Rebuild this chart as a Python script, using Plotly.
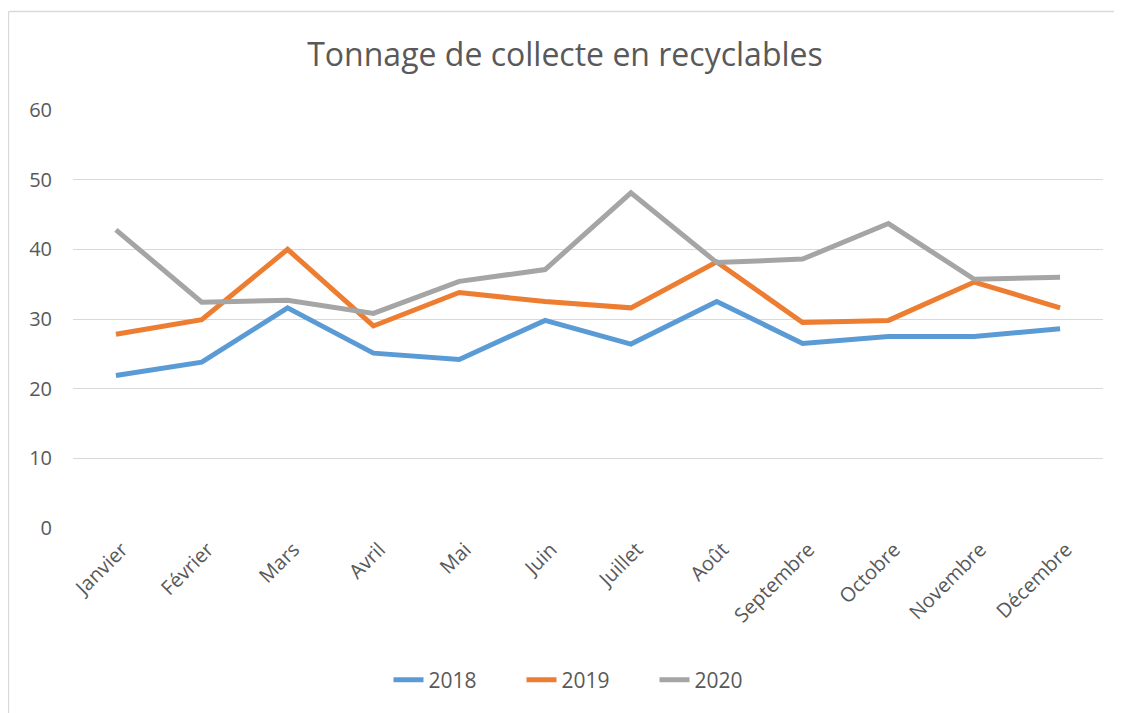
import plotly.graph_objects as go

months = ["Janvier", "Février", "Mars", "Avril", "Mai", "Juin", "Juillet",
          "Août", "Septembre", "Octobre", "Novembre", "Décembre"]
v2018 = [21.9, 23.8, 31.6, 25.1, 24.2, 29.8, 26.4, 32.5, 26.5, 27.5, 27.5, 28.6]
v2019 = [27.8, 29.9, 40.0, 29.0, 33.8, 32.5, 31.6, 38.2, 29.5, 29.8, 35.3, 31.6]
v2020 = [42.8, 32.4, 32.7, 30.8, 35.4, 37.1, 48.1, 38.1, 38.6, 43.7, 35.7, 36.0]

series = [("2018", v2018, "#5B9BD5"), ("2019", v2019, "#ED7D31"), ("2020", v2020, "#A5A5A5")]

fig = go.Figure()
for name, vals, col in series:
    fig.add_trace(go.Scatter(x=months, y=vals, mode="lines", name=name,
                             line=dict(color=col, width=5)))

font_family = "Open Sans, DejaVu Sans, sans-serif"
W, H = 1114, 705
fig.update_layout(
    width=W, height=H,
    paper_bgcolor="white", plot_bgcolor="white",
    margin=dict(l=65, r=19, t=102, b=185, autoexpand=False),
    title=dict(text="Tonnage de collecte en recyclables", x=0.5, xanchor="center",
               y=1 - 47 / H, yanchor="middle",
               font=dict(family=font_family, size=32, color="#595959")),
    font=dict(family=font_family, color="#595959", size=20),
    xaxis=dict(range=[-0.5, 11.5], tickangle=-45, showgrid=False, showline=False,
               zeroline=False, ticks="", ticklabelstandoff=5, ticklabelshift=6,
               tickfont=dict(size=20, color="#595959")),
    yaxis=dict(range=[0, 60], dtick=10, showgrid=True, gridcolor="#D9D9D9", gridwidth=1.3,
               zeroline=False, showline=False, ticks="", ticklabelstandoff=20,
               tickfont=dict(size=20, color="#595959")),
    legend=dict(orientation="h", x=0.5, xanchor="center", y=-0.364, yanchor="middle",
                entrywidth=88, entrywidthmode="pixels",
                font=dict(size=21, color="#595959")),
    showlegend=True,
    shapes=[
        dict(type="line", xref="paper", yref="paper", x0=-0.0626, x1=-0.0626,
             y0=1.2357, y1=-0.45, line=dict(color="#D9D9D9", width=1.3)),
        dict(type="line", xref="paper", yref="paper", x0=-0.0626, x1=1.02,
             y0=1.2357, y1=1.2357, line=dict(color="#D9D9D9", width=1.3)),
    ],
)

fig.write_html("out.html")
